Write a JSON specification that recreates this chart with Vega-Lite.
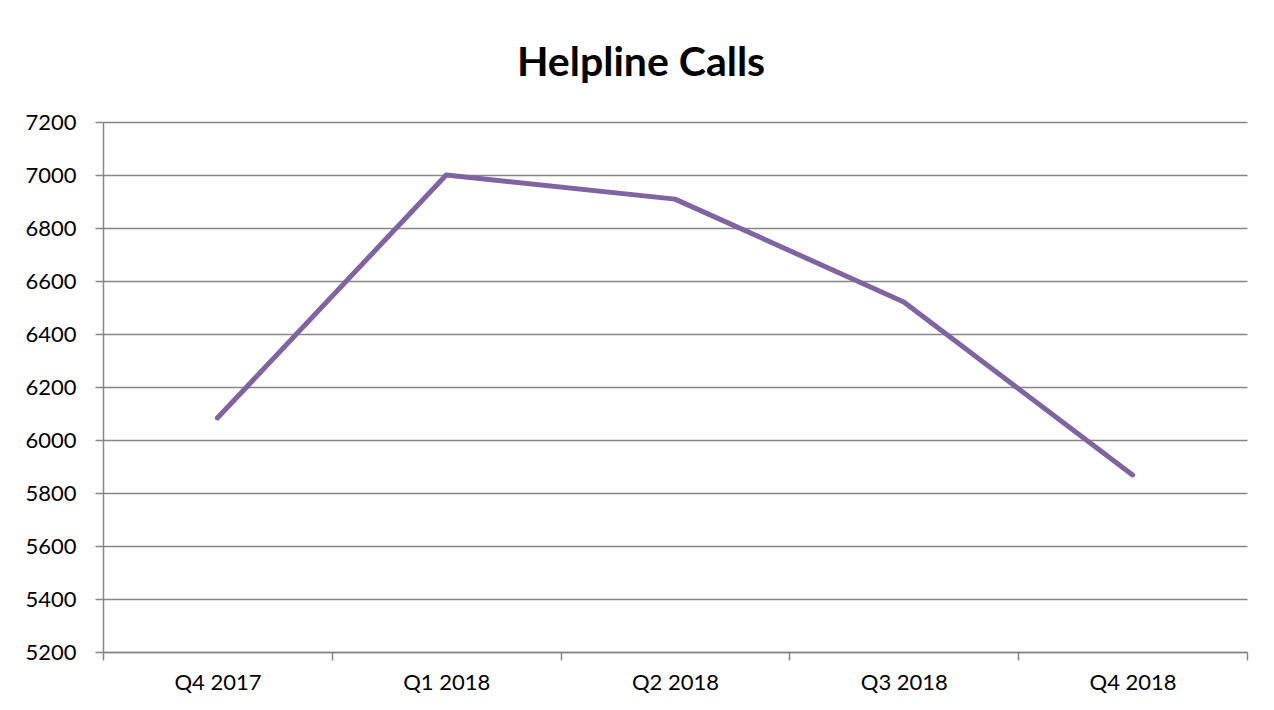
{
  "$schema": "https://vega.github.io/schema/vega-lite/v6.json",
  "width": 1144,
  "height": 530,
  "autosize": {"type": "none"},
  "padding": {"left": 103, "top": 122, "right": 27, "bottom": 58},
  "background": "white",
  "title": {
    "text": "Helpline Calls",
    "font": "Lato",
    "fontSize": 41,
    "fontWeight": "bold",
    "color": "#000000",
    "anchor": "middle",
    "dx": -34,
    "baseline": "alphabetic",
    "offset": -6
  },
  "data": {
    "values": [
      {"quarter": "Q4 2017", "calls": 6083},
      {"quarter": "Q1 2018", "calls": 7000},
      {"quarter": "Q2 2018", "calls": 6909},
      {"quarter": "Q3 2018", "calls": 6521},
      {"quarter": "Q4 2018", "calls": 5868}
    ]
  },
  "mark": {"type": "line", "color": "#8064A2", "strokeWidth": 5, "strokeCap": "round", "strokeJoin": "round"},
  "encoding": {
    "x": {
      "field": "quarter",
      "type": "ordinal",
      "sort": null,
      "scale": {"type": "band", "paddingInner": 0, "paddingOuter": 0},
      "axis": {
        "title": null,
        "labelAngle": 0,
        "labelFont": "Lato",
        "labelFontSize": 22,
        "labelColor": "#000000",
        "labelPadding": 12,
        "domainColor": "#868686",
        "domainWidth": 1.5,
        "tickColor": "#868686",
        "tickWidth": 1.5,
        "tickSize": 8,
        "tickBand": "extent",
        "grid": false
      }
    },
    "y": {
      "field": "calls",
      "type": "quantitative",
      "scale": {"domain": [5200, 7200], "nice": false, "zero": false},
      "axis": {
        "title": null,
        "values": [5200, 5400, 5600, 5800, 6000, 6200, 6400, 6600, 6800, 7000, 7200],
        "format": "d",
        "labelFont": "Lato",
        "labelFontSize": 22,
        "labelColor": "#000000",
        "labelPadding": 19,
        "domainColor": "#868686",
        "domainWidth": 1.5,
        "tickColor": "#868686",
        "tickWidth": 1.5,
        "tickSize": 8,
        "grid": true,
        "gridColor": "#868686",
        "gridWidth": 1.5,
        "gridOpacity": 1
      }
    }
  },
  "config": {"view": {"stroke": null}}
}
